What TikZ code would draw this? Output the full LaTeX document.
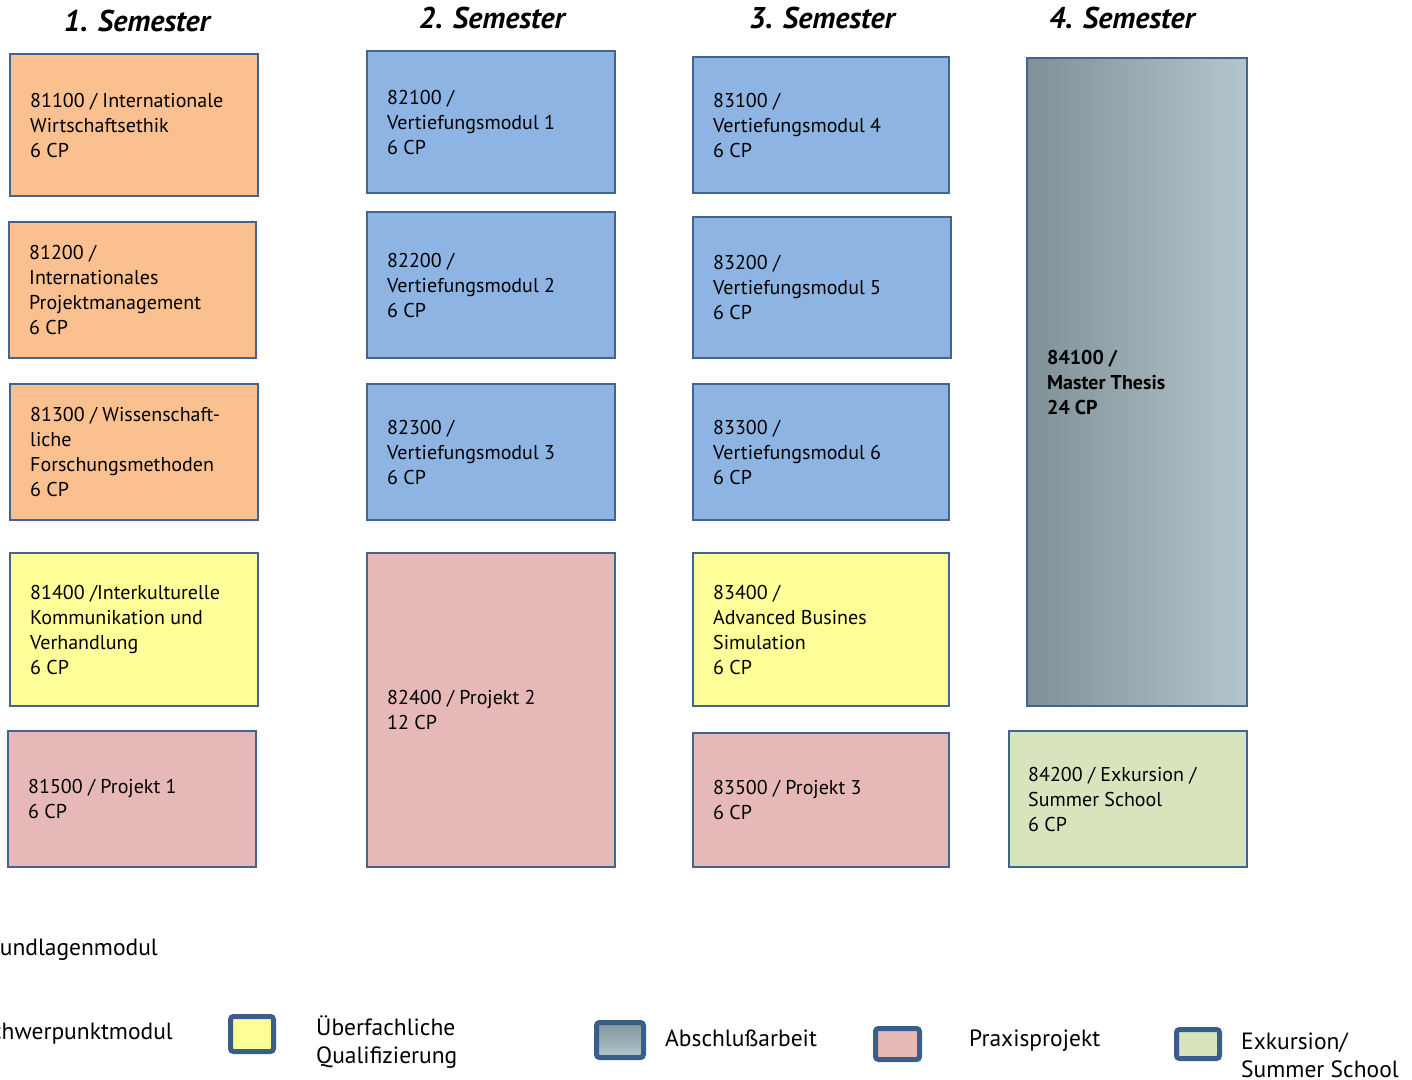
\documentclass[tikz,border=0pt]{standalone}
\usepackage{fontspec}
\setmainfont{PT Sans}
\usetikzlibrary{positioning}
\definecolor{bordc}{HTML}{41658F}
\definecolor{legc}{HTML}{3A5E8A}
\definecolor{orangef}{HTML}{FAC090}
\definecolor{bluef}{HTML}{8EB4E3}
\definecolor{pinkf}{HTML}{E6B8B7}
\definecolor{yellowf}{HTML}{FFFF99}
\definecolor{greenf}{HTML}{D7E4BD}
\definecolor{grayl}{HTML}{7F9096}
\definecolor{grayr}{HTML}{B4C6CD}
\begin{document}
\begin{tikzpicture}[x=1pt,y=-1pt,
  modbox/.style={draw=bordc, line width=2.5pt, inner sep=0pt, outer sep=0pt},
  modtext/.style={anchor=west, align=left, inner sep=0pt, font=\fontsize{20}{25}\selectfont, text=black},
  semtitle/.style={anchor=base, inner sep=0pt, font=\fontsize{30}{34}\selectfont\bfseries\itshape},
  legbox/.style={draw=legc, line width=5pt, rounded corners=3pt, inner sep=0pt},
  legtext/.style={anchor=west, align=left, inner sep=0pt, font=\fontsize{23.5}{28}\selectfont},
]
\useasboundingbox (0,0) rectangle (1412,1079);
\fill[white] (0,0) rectangle (1412,1079);

% titles
\node[semtitle] (t1) at (137,31) {1. Semester};
\node[semtitle] (t2) at (492,28) {2. Semester};
\node[semtitle] (t3) at (822,28) {3. Semester};
\node[semtitle] (t4) at (1122,28) {4. Semester};

% column 1
\node[modbox, fill=orangef, minimum width=248pt, minimum height=142pt] (m81100) at (134,125) {};
\node[modtext] (x81100) at ([xshift=20pt]m81100.west) {81100 / Internationale\\Wirtschaftsethik\\6 CP};
\node[modbox, fill=orangef, minimum width=247pt, minimum height=136pt] (m81200) at (132.5,290) {};
\node[modtext] (x81200) at ([xshift=20pt]m81200.west) {81200 /\\Internationales\\Projektmanagement\\6 CP};
\node[modbox, fill=orangef, minimum width=248pt, minimum height=136pt] (m81300) at (134,452) {};
\node[modtext] (x81300) at ([xshift=20pt]m81300.west) {81300 / Wissenschaft-\\liche\\Forschungsmethoden\\6 CP};
\node[modbox, fill=yellowf, minimum width=248pt, minimum height=153pt] (m81400) at (134,629.5) {};
\node[modtext] (x81400) at ([xshift=20pt]m81400.west) {81400 /Interkulturelle\\Kommunikation und\\Verhandlung\\6 CP};
\node[modbox, fill=pinkf, minimum width=248pt, minimum height=136pt] (m81500) at (132,799) {};
\node[modtext] (x81500) at ([xshift=20pt]m81500.west) {81500 / Projekt 1\\6 CP};

% column 2
\node[modbox, fill=bluef, minimum width=248pt, minimum height=142pt] (m82100) at (491,122) {};
\node[modtext] (x82100) at ([xshift=20pt]m82100.west) {82100 /\\Vertiefungsmodul 1\\6 CP};
\node[modbox, fill=bluef, minimum width=248pt, minimum height=146pt] (m82200) at (491,285) {};
\node[modtext] (x82200) at ([xshift=20pt]m82200.west) {82200 /\\Vertiefungsmodul 2\\6 CP};
\node[modbox, fill=bluef, minimum width=248pt, minimum height=136pt] (m82300) at (491,452) {};
\node[modtext] (x82300) at ([xshift=20pt]m82300.west) {82300 /\\Vertiefungsmodul 3\\6 CP};
\node[modbox, fill=pinkf, minimum width=248pt, minimum height=314pt] (m82400) at (491,710) {};
\node[modtext] (x82400) at ([xshift=20pt]m82400.west) {82400 / Projekt 2\\12 CP};

% column 3
\node[modbox, fill=bluef, minimum width=256pt, minimum height=136pt] (m83100) at (821,125) {};
\node[modtext] (x83100) at ([xshift=20pt]m83100.west) {83100 /\\Vertiefungsmodul 4\\6 CP};
\node[modbox, fill=bluef, minimum width=258pt, minimum height=141pt] (m83200) at (822,287.5) {};
\node[modtext] (x83200) at ([xshift=20pt]m83200.west) {83200 /\\Vertiefungsmodul 5\\6 CP};
\node[modbox, fill=bluef, minimum width=256pt, minimum height=136pt] (m83300) at (821,452) {};
\node[modtext] (x83300) at ([xshift=20pt]m83300.west) {83300 /\\Vertiefungsmodul 6\\6 CP};
\node[modbox, fill=yellowf, minimum width=256pt, minimum height=153pt] (m83400) at (821,629.5) {};
\node[modtext] (x83400) at ([xshift=20pt]m83400.west) {83400 /\\Advanced Busines\\Simulation\\6 CP};
\node[modbox, fill=pinkf, minimum width=256pt, minimum height=134pt] (m83500) at (821,800) {};
\node[modtext] (x83500) at ([xshift=20pt]m83500.west) {83500 / Projekt 3\\6 CP};

% column 4
\node[modbox, left color=grayl, right color=grayr, minimum width=220pt, minimum height=648pt] (m84100) at (1137,382) {};
\node[modtext, font=\fontsize{20}{25}\selectfont\bfseries] (x84100) at ([xshift=20pt]m84100.west) {84100 /\\Master Thesis\\24 CP};
\node[modbox, fill=greenf, minimum width=238pt, minimum height=136pt] (m84200) at (1128,799) {};
\node[modtext] (x84200) at ([xshift=19pt]m84200.west) {84200 / Exkursion /\\Summer School\\6 CP};

% legend
\node[legtext, anchor=base east] (lg1) at (158,955) {Grundlagenmodul};
\node[legtext, anchor=base east] (lg2) at (173,1039) {Schwerpunktmodul};
\node[legbox, fill=yellowf, minimum width=43pt, minimum height=35pt] (lb3) at (252,1034) {};
\node[legtext] (lg3) at (316,1042) {Überfachliche\\Qualifizierung};
\node[legbox, top color=grayl!90!grayr, bottom color=grayr, minimum width=47pt, minimum height=35pt] (lb4) at (620,1040) {};
\node[legtext] (lg4) at (665,1038) {Abschlußarbeit};
\node[legbox, fill=pinkf, minimum width=44pt, minimum height=31pt] (lb5) at (897.5,1044) {};
\node[legtext] (lg5) at (969,1041) {Praxisprojekt};
\node[legbox, fill=greenf, minimum width=43pt, minimum height=29pt] (lb6) at (1198,1044) {};
\node[legtext] (lg6) at (1241,1055) {Exkursion/\\Summer School};
\end{tikzpicture}
\end{document}
